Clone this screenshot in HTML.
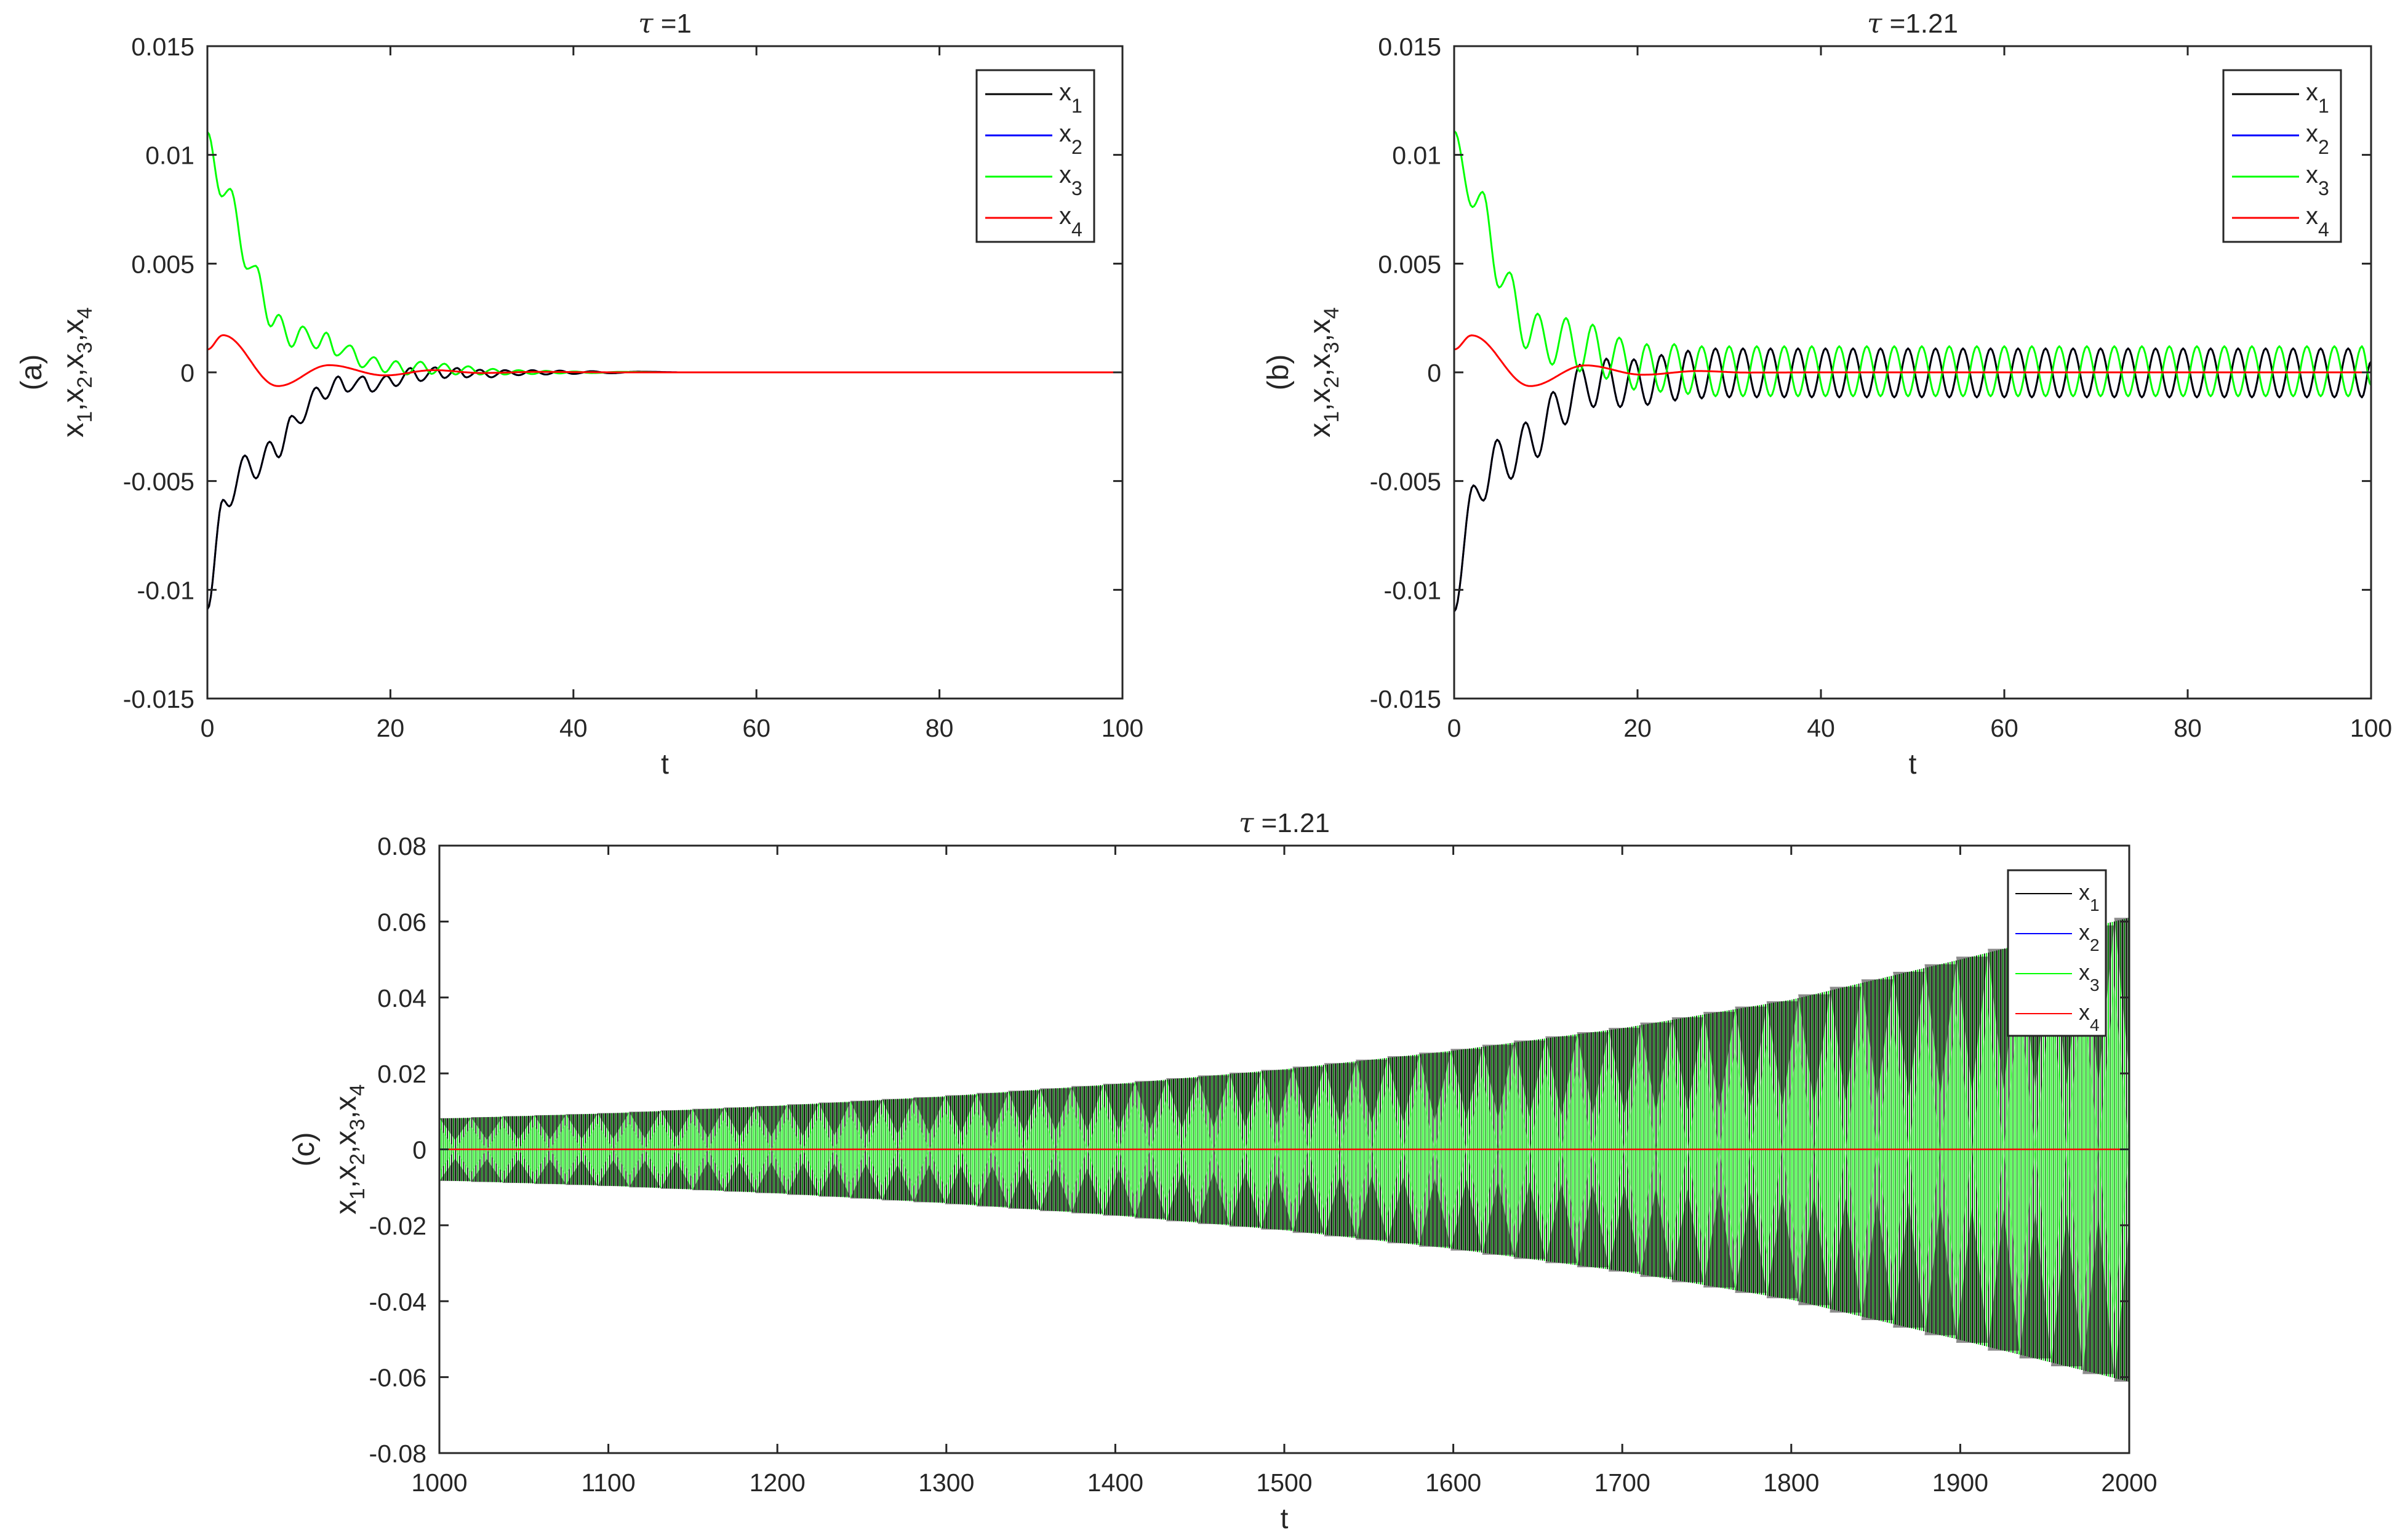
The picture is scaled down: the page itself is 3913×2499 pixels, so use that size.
<!DOCTYPE html>
<html><head><meta charset="utf-8"><style>
html,body{margin:0;padding:0;background:#fff}
svg{display:block}
text{font-family:"Liberation Sans",sans-serif;fill:#262626}
</style></head><body>
<svg id="fig" xmlns="http://www.w3.org/2000/svg" width="3913" height="2499" viewBox="0 0 3913 2499">
<rect x="0" y="0" width="3913" height="2499" fill="#fff"/>
</svg>
<script>
// ---------- Panel (a) data: extremes (t, value) ----------
const aX1T=[0,1.7,2.4,4.1,5.3,6.8,7.8,9.2,10.2,11.9,12.9,14.3,15.3,17.0,18.0,19.6,20.6,22.2,23.3,24.9,25.9,27.3,28.3,29.8,31.0,32.5,34,35.5,37,38.5,40,42,44,47,52,100];
const aX1V=[-0.0109,-0.00586,-0.00616,-0.00382,-0.00488,-0.00319,-0.00391,-0.0020,-0.00234,-0.0007,-0.00122,-0.00019,-0.00089,-0.00019,-0.00089,-0.00016,-0.00063,0.0002,-0.0004,0.00023,-0.00026,0.0002,-0.00023,0.00012,-0.00023,0.0001,-0.00013,0.0001,-0.0001,0.00008,-0.00007,0.00005,-0.00004,0.00003,0,0];
const aX3T=[0,1.55,2.5,4.3,5.3,6.9,7.8,9.2,10.4,11.9,13.0,14.1,15.6,16.9,18.2,19.4,20.6,21.8,23.3,24.5,25.9,27.1,28.5,29.8,31.2,32.5,34,35.5,37,38.5,40,42,45,50,100];
const aX3V=[0.01106,0.00809,0.00844,0.00476,0.0049,0.00211,0.00265,0.00117,0.00211,0.0011,0.00183,0.00077,0.00124,0.00023,0.0007,0.0,0.00052,-0.0001,0.00049,-0.00007,0.0004,-0.0001,0.00028,-0.0001,0.00016,-0.0001,0.0001,-0.00008,0.00007,-0.00005,0.00004,-0.00003,0.00002,0,0];
const aX4T=[0,1.7,7.7,13.3,19.4,24.7,30,36,45,100];
const aX4V=[0.00105,0.00171,-0.00063,0.00033,-0.00014,0.0001,-0.00003,0.00002,0,0];
// ---------- Panel (b) data ----------
const bX1T=[0,2.1,3.2,4.7,6.2,7.8,9.1,10.8,12.1,13.7,15.2,16.6,18.1,19.6,21.1,22.6,24.1,25.5,27,28.5,30,31.5,33,34.5,36,37.5,39,40.5,42,43.5,45,46.5,48,49.5,51,52.5,54,55.5,57,58.5,60,61.5,63,64.5,66,67.5,69,70.5,72,73.5,75,76.5,78,79.5,81,82.5,84,85.5,87,88.5,90,91.5,93,94.5,96,97.5,99,100];
const bX1V=[-0.011,-0.0052,-0.0059,-0.0031,-0.0049,-0.0023,-0.0039,-0.0009,-0.0024,0.00035,-0.0016,0.00063,-0.0016,0.0006,-0.0015,0.0008,-0.0013,0.001,-0.0012,0.0011,-0.00115,0.0011,-0.00115,0.0011,-0.00115,0.0011,-0.00115,0.0011,-0.00115,0.0011,-0.00115,0.0011,-0.00115,0.0011,-0.00115,0.0011,-0.00115,0.0011,-0.00115,0.0011,-0.00115,0.0011,-0.00115,0.0011,-0.00115,0.0011,-0.00115,0.0011,-0.00115,0.0011,-0.00115,0.0011,-0.00115,0.0011,-0.00115,0.0011,-0.00115,0.0011,-0.00115,0.0011,-0.00115,0.0011,-0.00115,0.0011,-0.00115,0.0011,-0.00115,0.0005];
const bX3T=[0,2.0,3.1,4.9,6.05,7.8,9.1,10.7,12.2,13.7,15.1,16.6,18.0,19.6,21,22.5,24,25.5,27,28.5,30,31.5,33,34.5,36,37.5,39,40.5,42,43.5,45,46.5,48,49.5,51,52.5,54,55.5,57,58.5,60,61.5,63,64.5,66,67.5,69,70.5,72,73.5,75,76.5,78,79.5,81,82.5,84,85.5,87,88.5,90,91.5,93,94.5,96,97.5,99,100];
const bX3V=[0.0111,0.0076,0.0083,0.0039,0.0046,0.0011,0.0027,0.00035,0.0025,0.00004,0.0022,-0.0003,0.0016,-0.0008,0.0013,-0.0009,0.0013,-0.001,0.0012,-0.0011,0.0012,-0.0011,0.0012,-0.0011,0.0012,-0.0011,0.0012,-0.0011,0.0012,-0.0011,0.0012,-0.0011,0.0012,-0.0011,0.0012,-0.0011,0.0012,-0.0011,0.0012,-0.0011,0.0012,-0.0011,0.0012,-0.0011,0.0012,-0.0011,0.0012,-0.0011,0.0012,-0.0011,0.0012,-0.0011,0.0012,-0.0011,0.0012,-0.0011,0.0012,-0.0011,0.0012,-0.0011,0.0012,-0.0011,0.0012,-0.0011,0.0012,-0.0011,0.0012,-0.0006];
const bX4T=[0,1.9,8.3,14.3,20.6,26.6,32,40,100];
const bX4V=[0.00105,0.0017,-0.00063,0.00032,-0.00011,0.00006,-0.00001,0,0];
// ---------- Panel (c) data: envelope ----------
const cEnvT=[1000,1100,1200,1300,1400,1500,1600,1700,1800,1900,2000];
const cEnvUp=[0.0081,0.0095,0.0115,0.0140,0.0172,0.0211,0.0260,0.0319,0.0394,0.0500,0.0610];
const cEnvLo=[-0.0082,-0.0096,-0.0116,-0.0142,-0.0174,-0.0213,-0.0262,-0.0321,-0.0396,-0.0502,-0.0612];
const cBeatPeriod=[18.7];
const cOscPeriod=[2.4];
// ---------- ticks ----------
const abXTicks=[0,20,40,60,80,100];
const abYTicks=[-0.015,-0.01,-0.005,0,0.005,0.01,0.015];
const abYLabels=["-0.015","-0.01","-0.005","0","0.005","0.01","0.015"];
const cXTicks=[1000,1100,1200,1300,1400,1500,1600,1700,1800,1900,2000];
const cYTicks=[-0.08,-0.06,-0.04,-0.02,0,0.02,0.04,0.06,0.08];
const cYLabels=["-0.08","-0.06","-0.04","-0.02","0","0.02","0.04","0.06","0.08"];

const NS="http://www.w3.org/2000/svg";
const svg=document.getElementById('fig');
function mk(tag,attrs,parent){const e=document.createElementNS(NS,tag);for(const k in attrs)e.setAttribute(k,attrs[k]);(parent||svg).appendChild(e);return e;}

function makeAxes(cfg){
  const g=mk('g',{});
  
  
  const sx=t=>cfg.L+(t-cfg.x0)/(cfg.x1-cfg.x0)*(cfg.R-cfg.L);
  const sy=v=>cfg.B-(v-cfg.y0)/(cfg.y1-cfg.y0)*(cfg.B-cfg.T);
  return {g,sx,sy,cfg};
}
function drawFrame(ax,xt,xl,yt,yl){
  const {g,sx,sy,cfg}=ax;
  const fr=mk('rect',{x:cfg.L,y:cfg.T,width:cfg.R-cfg.L,height:cfg.B-cfg.T,fill:'none',stroke:'#262626','stroke-width':3},g);
  
  
  xt.forEach((t,i)=>{
    const x=sx(t);
    const tk=mk('path',{d:`M${x},${cfg.B}V${cfg.B-15}M${x},${cfg.T}V${cfg.T+15}`,stroke:'#262626','stroke-width':3},g);
    
    
    const tx=mk('text',{x:x,y:cfg.B+62,'font-size':41,'text-anchor':'middle'},g);
    tx.textContent=xl[i];
    
    
  });
  yt.forEach((v,i)=>{
    const y=sy(v);
    const tk=mk('path',{d:`M${cfg.L},${y}H${cfg.L+15}M${cfg.R},${y}H${cfg.R-15}`,stroke:'#262626','stroke-width':3},g);
    
    
    const tx=mk('text',{x:cfg.L-21,y:y+15,'font-size':41,'text-anchor':'end'},g);
    tx.textContent=yl[i];
    
    
  });
  const xl2=mk('text',{x:(cfg.L+cfg.R)/2,y:cfg.B+122,'font-size':46,'text-anchor':'middle'},g);
  xl2.textContent='t';
  
  
  const ti=mk('text',{x:(cfg.L+cfg.R)/2,y:cfg.T-22,'font-size':44,'text-anchor':'middle',fill:'#000'},g);
  ti.innerHTML='<tspan font-style="italic" font-family="DejaVu Serif, serif">τ</tspan> ='+cfg.tau;
  
  
  const cy=(cfg.T+cfg.B)/2;
  const yl3=mk('text',{x:0,y:0,'font-size':48,'text-anchor':'middle',transform:`translate(${cfg.ylx},${cy}) rotate(-90)`},g);
  yl3.innerHTML='x<tspan font-size="34" dy="14">1</tspan><tspan dy="-14">,x</tspan><tspan font-size="34" dy="14">2</tspan><tspan dy="-14">,x</tspan><tspan font-size="34" dy="14">3</tspan><tspan dy="-14">,x</tspan><tspan font-size="34" dy="14">4</tspan>';
  
  
  const pl=mk('text',{x:0,y:0,'font-size':48,'text-anchor':'middle',transform:`translate(${cfg.ylx-68},${cy}) rotate(-90)`},g);
  pl.textContent=cfg.panel;
  
  
}
function extremesPath(ax,T,V){
  let d='';
  for(let i=0;i<T.length-1;i++){
    const n=Math.max(6,Math.ceil((ax.sx(T[i+1])-ax.sx(T[i]))/3));
    for(let k=(i===0?0:1);k<=n;k++){
      const s=k/n, t=T[i]+(T[i+1]-T[i])*s, v=V[i]+(V[i+1]-V[i])*(1-Math.cos(Math.PI*s))/2;
      d+=(d===''?'M':'L')+ax.sx(t).toFixed(1)+','+ax.sy(v).toFixed(1);
    }
  }
  return d;
}
function drawSeries(ax,T,V,color,name,w){
  const p=mk('path',{d:extremesPath(ax,T,V),fill:'none',stroke:color,'stroke-width':w,'stroke-linejoin':'round'},ax.g);
  
  
}
function drawLegend(ax,box,lw,fs,sub,dy){
  const lg=mk('g',{},ax.g);
  
  
  mk('rect',{x:box.x,y:box.y,width:box.w,height:box.h,fill:'#fff',stroke:'#262626','stroke-width':3},lg);
  const cols=['#000','#0000ff','#00ff00','#ff0000'];
  for(let i=0;i<4;i++){
    const e=mk('g',{},lg);
    
    
    const y=box.y+box.r0+i*box.step;
    mk('line',{x1:box.x+box.l0,x2:box.x+box.l1,y1:y,y2:y,stroke:cols[i],'stroke-width':lw},e);
    const t=mk('text',{x:box.x+box.l1+11,y:y+10,'font-size':fs,fill:'#000'},e);
    t.innerHTML='x<tspan font-size="'+sub+'" dy="'+dy+'">'+(i+1)+'</tspan>';
  }
}

// Panel a
const axA=makeAxes({name:'panel-a',L:337,R:1824,T:75,B:1135,x0:0,x1:100,y0:-0.015,y1:0.015,tau:'1',panel:'(a)',ylx:135});
drawSeries(axA,aX1T,aX1V,'#0000ff','series-x2',3);
drawSeries(axA,aX1T,aX1V,'#000','series-x1',3);
drawSeries(axA,aX3T,aX3V,'#00ff00','series-x3',3);
drawSeries(axA,aX4T,aX4V,'#ff0000','series-x4',3);
drawFrame(axA,abXTicks,abXTicks.map(String),abYTicks,abYLabels);
drawLegend(axA,{x:1587,y:114,w:191,h:279,l0:14,l1:123,r0:39,step:67},3,40,32,20);

// Panel b
const axB=makeAxes({name:'panel-b',L:2363,R:3853,T:75,B:1135,x0:0,x1:100,y0:-0.015,y1:0.015,tau:'1.21',panel:'(b)',ylx:2161});
drawSeries(axB,bX1T,bX1V,'#0000ff','series-x2',3);
drawSeries(axB,bX1T,bX1V,'#000','series-x1',3);
drawSeries(axB,bX3T,bX3V,'#00ff00','series-x3',3);
drawSeries(axB,bX4T,bX4V,'#ff0000','series-x4',3);
drawFrame(axB,abXTicks,abXTicks.map(String),abYTicks,abYLabels);
drawLegend(axB,{x:3613,y:114,w:191,h:279,l0:14,l1:123,r0:39,step:67},3,40,32,20);

// Panel c
const axC=makeAxes({name:'panel-c',L:714,R:3460,T:1374,B:2361,x0:1000,x1:2000,y0:-0.08,y1:0.08,tau:'1.21',panel:'(c)',ylx:578});
function envAt(arr,t){
  for(let i=0;i<cEnvT.length-1;i++){if(t<=cEnvT[i+1]){const s=(t-cEnvT[i])/(cEnvT[i+1]-cEnvT[i]);return arr[i]+(arr[i+1]-arr[i])*s;}}
  return arr[arr.length-1];
}
(function(){
  const g=mk('g',{},axC.g);
  
  
  const P=cOscPeriod[0];
  let dk='',dg='';
  for(let t=1000;t<=2000;t+=P){
    const t2=t+P/2;
    const xa=axC.sx(t),xb=axC.sx(t2);
    dk+=`M${xa.toFixed(1)},${axC.sy(envAt(cEnvUp,t)).toFixed(1)}V${axC.sy(envAt(cEnvLo,t)).toFixed(1)}`;
    if(t2<=2000)dg+=`M${xb.toFixed(1)},${axC.sy(envAt(cEnvUp,t2)).toFixed(1)}V${axC.sy(envAt(cEnvLo,t2)).toFixed(1)}`;
  }
  const pk=mk('path',{d:dk,stroke:'#000','stroke-width':1.7},g);
  
  
  const pg=mk('path',{d:dg,stroke:'#00ee00','stroke-width':1.9},g);
  
  
  const B=cBeatPeriod[0];
  let dgd='',dkd='';
  for(let tc=1000;tc<2000+B;tc+=B){
    const a=tc-B/2,b=tc+B/2;
    const u=envAt(cEnvUp,Math.min(tc,2000)),l=envAt(cEnvLo,Math.min(tc,2000));
    const xa=axC.sx(Math.max(a,1000)),xb=axC.sx(Math.min(b,2000)),xc=axC.sx(Math.min(tc,2000));
    dgd+=`M${xa},${axC.sy(0)}L${xc},${axC.sy(0.72*u)}L${xb},${axC.sy(0)}L${xc},${axC.sy(0.72*l)}Z`;
    const ua=envAt(cEnvUp,Math.max(a,1000)),la=envAt(cEnvLo,Math.max(a,1000));
    const xa2=axC.sx(Math.max(a-B/2,1000)),xb2=axC.sx(Math.min(a+B/2,2000));
    dkd+=`M${xa2},${axC.sy(ua)}L${axC.sx(Math.max(a,1000))},${axC.sy(0.3*ua)}L${xb2},${axC.sy(ua)}Z`;
    dkd+=`M${xa2},${axC.sy(la)}L${axC.sx(Math.max(a,1000))},${axC.sy(0.3*la)}L${xb2},${axC.sy(la)}Z`;
  }
  const gd=mk('path',{d:dgd,fill:'#66ff66','fill-opacity':0.6},g);
  
  
  const kd=mk('path',{d:dkd,fill:'#000','fill-opacity':0.45},g);
  
  
  const r=mk('line',{x1:axC.sx(1000),x2:axC.sx(2000),y1:axC.sy(0),y2:axC.sy(0),stroke:'#ff0000','stroke-width':2.5},g);
  
  
})();
drawFrame(axC,cXTicks,cXTicks.map(String),cYTicks,cYLabels);
drawLegend(axC,{x:3263,y:1414,w:159,h:269,l0:12,l1:104,r0:38,step:65},2,36,28,18);
</script>
</body></html>
